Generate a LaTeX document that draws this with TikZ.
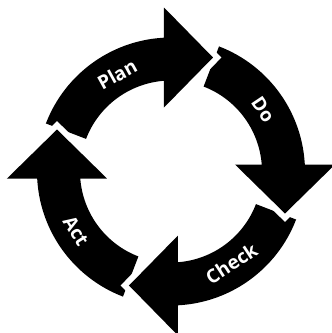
\documentclass[tikz,border=0pt]{standalone}
\usepackage{fontspec}
\setmainfont{Open Sans}
\begin{document}
\begin{tikzpicture}[x=1pt,y=1pt,
  band/.style={fill=black},
  headgap/.style={draw=white,line width=12pt,line join=miter},
  lbl/.style={text=white,font=\fontsize{19}{19}\selectfont\bfseries,inner sep=0pt}]
\useasboundingbox (-171,-161.5) rectangle (161,171.5);
% bands (tail to head base)
\foreach \A in {90,0,-90,180}{
  \begin{scope}[rotate=\A-90]
    \fill[band] (159:134) arc[start angle=159,end angle=91.28,radius=134]
      -- (91.89:91) arc[start angle=91.89,end angle=159,radius=91] -- cycle;
  \end{scope}
}
% heads with white gap
\foreach \A in {90,0,-90,180}{
  \begin{scope}[rotate=\A-90]
    \draw[headgap] (-7,64) -- (42,114) -- (-7,164);
    \fill[band] (-7,64) -- (42,114) -- (-7,164) -- cycle;
  \end{scope}
}
\node[lbl,rotate=29] (plan) at (119:111) {Plan};
\node[lbl,rotate=-56] (do) at (34:111) {Do};
\node[lbl,rotate=33.3] (check) at (-56.7:110) {Check};
\node[lbl,rotate=-58] (act) at (212:112) {Act};
\end{tikzpicture}
\end{document}
